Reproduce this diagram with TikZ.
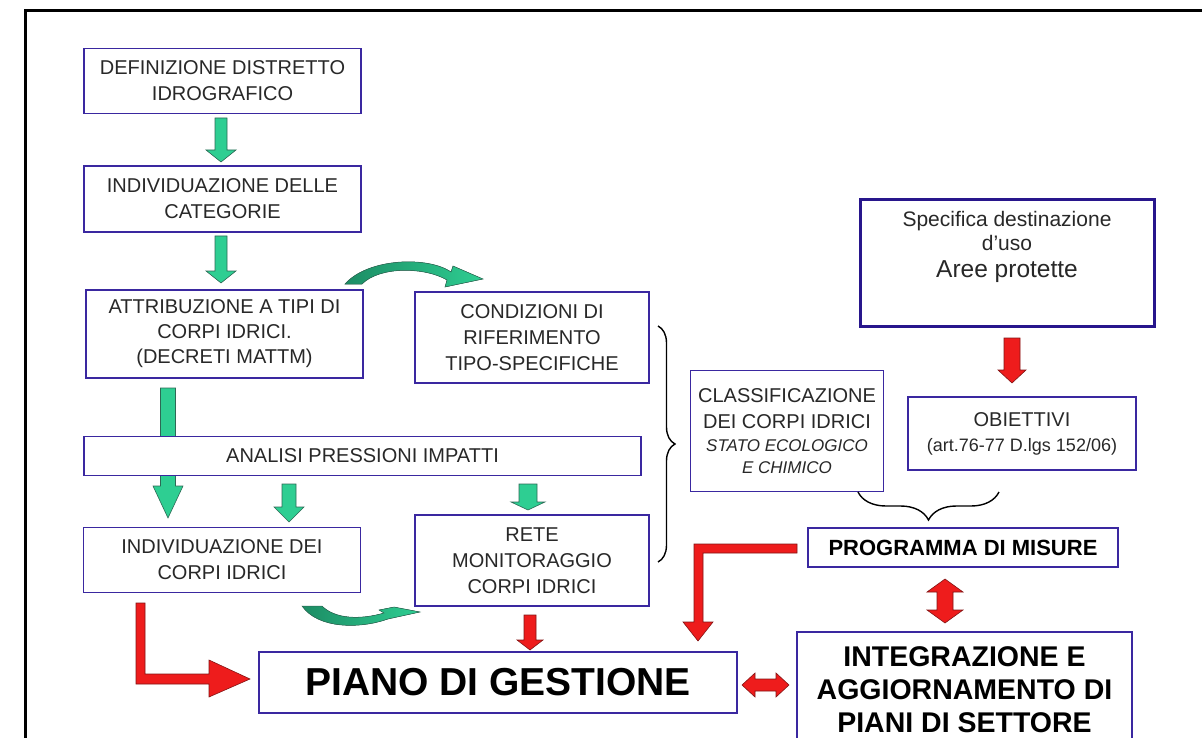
\documentclass[tikz,border=0pt]{standalone}
\usepackage{fontspec}
\setmainfont{Liberation Sans}
\usetikzlibrary{decorations.pathreplacing,calc}
\definecolor{boxblue}{RGB}{58,40,160}
\definecolor{specblue}{RGB}{40,22,140}
\definecolor{txtgray}{RGB}{40,40,40}
\definecolor{gfill}{RGB}{46,206,146}
\definecolor{gline}{RGB}{45,105,85}
\definecolor{gdark}{RGB}{28,140,100}
\definecolor{rfill}{RGB}{238,28,28}
\definecolor{rline}{RGB}{130,20,20}
% vertical block arrow pointing down: style, x, ytop, ytip, shaft half, head half, head length
\newcommand\blkdown[7]{\filldraw[#1] (#2-#5,#3) -- (#2+#5,#3) -- (#2+#5,#4-#7) -- (#2+#6,#4-#7) -- (#2,#4) -- (#2-#6,#4-#7) -- (#2-#5,#4-#7) -- cycle;}
\begin{document}
\begin{tikzpicture}[x=1pt,y=-1pt,
  box/.style={draw=boxblue,line width=1.6pt,fill=white,align=center,text=txtgray,inner sep=0pt,font=\fontsize{20}{26}\selectfont},
  boldbox/.style={box,text=black},
  garrow/.style={fill=gfill,draw=gline,line width=0.6pt},
  rarrow/.style={fill=rfill,draw=rline,line width=0.6pt},
  gcurve/.style={left color=gdark,right color=gfill,draw=gline,line width=0.5pt},
  bracestyle/.style={draw=black,line width=1.4pt,decorate}]
\useasboundingbox (0,0) rectangle (1202,738);
\clip (0,0) rectangle (1202,738);
\draw[line width=3pt] (25,11) rectangle (1240,780);

% green block arrows
\blkdown{garrow}{221}{118}{162}{6}{15}{12}
\blkdown{garrow}{221}{236}{283}{6}{15}{12}
\blkdown{garrow}{168}{388}{518}{7.5}{15}{32}
\blkdown{garrow}{289}{484}{522}{7}{15}{15}
\blkdown{garrow}{528}{484}{510}{9}{17}{8}

% curved green arrows
\filldraw[gcurve] (345,284) .. controls (368,258) and (428,256) .. (451,272)
  -- (453,266) -- (483,279) -- (445,287) -- (447,280)
  .. controls (425,267) and (380,266) .. (362,284) -- cycle;
\filldraw[gcurve] (302,606) .. controls (318,629) and (360,629) .. (388,619)
  -- (420,612) -- (394,607) -- (379,610) -- (384,613)
  .. controls (360,620) and (335,619) .. (322,606) -- cycle;

% red arrows
\blkdown{rarrow}{1012}{338}{383}{8}{14}{13}
\blkdown{rarrow}{530}{615}{650}{6}{13}{10}
\filldraw[rarrow] (136,603) -- (145,603) -- (145,674) -- (209,674) -- (209,660)
  -- (250,679) -- (209,697) -- (209,684) -- (136,684) -- cycle;
\filldraw[rarrow] (797,544) -- (797,553) -- (703,553) -- (703,622) -- (713,622)
  -- (698,641) -- (683,622) -- (694,622) -- (694,544) -- cycle;
\filldraw[rarrow] (937,592) -- (927,592) -- (945,579) -- (963,592) -- (953,592)
  -- (953,610) -- (963,610) -- (945,623) -- (927,610) -- (937,610) -- cycle;
\filldraw[rarrow] (755,679) -- (755,673) -- (742,685) -- (755,697) -- (755,691)
  -- (776,691) -- (776,697) -- (789,685) -- (776,673) -- (776,679) -- cycle;

% boxes
\node[box,minimum width=277pt,minimum height=65pt] (b1) at (222.5,81) {DEFINIZIONE DISTRETTO\\IDROGRAFICO};
\node[box,minimum width=277pt,minimum height=66pt] (b2) at (222.5,199) {INDIVIDUAZIONE DELLE\\CATEGORIE};
\node[box,minimum width=277pt,minimum height=88pt,font=\fontsize{20}{25}\selectfont] (b3) at (224.5,334) {ATTRIBUZIONE A TIPI DI\\CORPI IDRICI.\\(DECRETI MATTM)};
\node[box,minimum width=234pt,minimum height=91pt] (b4) at (532,337.5) {CONDIZIONI DI\\RIFERIMENTO\\TIPO-SPECIFICHE};
\node[box,minimum width=557pt,minimum height=39pt] (ana) at (362.5,456) {ANALISI PRESSIONI IMPATTI};
\node[box,minimum width=277pt,minimum height=65pt] (b5) at (222,560) {INDIVIDUAZIONE DEI\\CORPI IDRICI};
\node[box,minimum width=234pt,minimum height=91pt] (rete) at (532,560.5) {RETE\\MONITORAGGIO\\CORPI IDRICI};
\node[box,draw=specblue,line width=3pt,minimum width=294pt,minimum height=126pt] (spec) at (1007,263) {};
\node[align=center,text=txtgray,inner sep=0pt,font=\fontsize{21}{24}\selectfont] (spectxt) at (1007,247) {Specifica destinazione\\d’uso\\[3pt]{\fontsize{24.5}{24}\selectfont Aree protette}};
\node[box,minimum width=193pt,minimum height=121pt] (cls) at (787,431) {CLASSIFICAZIONE\\DEI CORPI IDRICI\\[-3pt]{\itshape\fontsize{17}{22}\selectfont STATO ECOLOGICO}\\[-4pt]{\itshape\fontsize{17}{22}\selectfont E CHIMICO}};
\node[box,minimum width=228pt,minimum height=73pt] (obi) at (1022,433.5) {OBIETTIVI\\[-1pt]{\fontsize{18}{25}\selectfont (art.76-77 D.lgs 152/06)}};
\node[boldbox,minimum width=310pt,minimum height=39pt,font=\fontsize{22}{26}\bfseries\selectfont] (prog) at (963,547.5) {PROGRAMMA DI MISURE};
\node[boldbox,minimum width=335pt,minimum height=116pt,font=\fontsize{28.5}{33}\bfseries\selectfont] (integ) at (964.5,690) {INTEGRAZIONE E\\AGGIORNAMENTO DI\\PIANI DI SETTORE};
\node[boldbox,minimum width=478pt,minimum height=61pt,font=\fontsize{39}{40}\bfseries\selectfont] (piano) at (498,682.5) {PIANO DI GESTIONE};

% braces
\draw[bracestyle,decoration={brace,amplitude=17pt,aspect=0.5}] (658,326) -- (658,562);
\draw[bracestyle,decoration={brace,amplitude=28pt,aspect=0.5}] (999,492) -- (858,492);
\end{tikzpicture}
\end{document}
